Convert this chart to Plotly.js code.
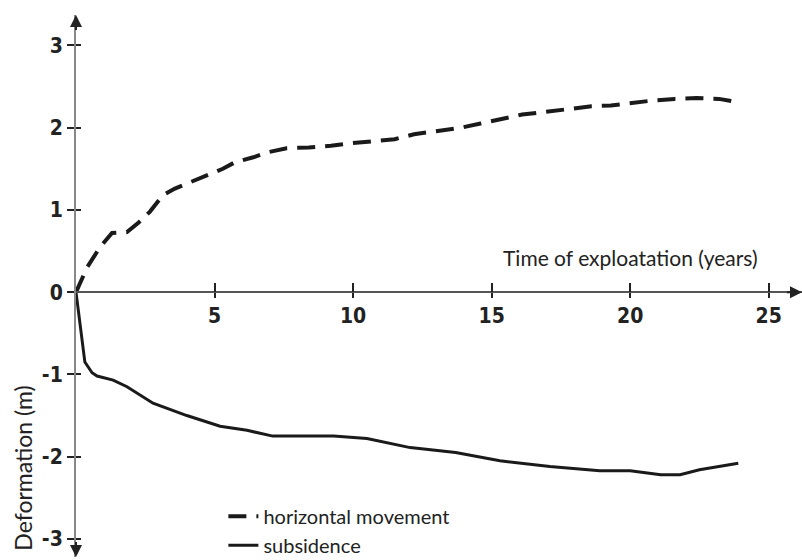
<!DOCTYPE html>
<html><head><meta charset="utf-8">
<script src="https://cdn.plot.ly/plotly-3.0.1.min.js"></script>
<style>html,body{margin:0;padding:0;background:#fff}#c{width:802px;height:560px}</style>
</head><body><div id="c"></div>
<script>
// Horizontal movement (dashed)
var hx = [0, 0.4, 0.87, 1.3, 1.84, 2.24, 2.67, 3.14, 3.57, 4.0, 4.58, 5.3, 5.74, 6.4, 6.9, 7.6, 8.4, 9.2, 9.9, 10.7, 11.5, 12.2, 13.0, 13.9, 14.6, 15.3, 16.1, 16.9, 17.7, 18.6, 19.3, 20.0, 20.8, 21.6, 22.4, 23.2, 23.9];
var hy = [0, 0.3, 0.55, 0.72, 0.73, 0.84, 0.98, 1.18, 1.26, 1.32, 1.41, 1.5, 1.58, 1.64, 1.70, 1.75, 1.76, 1.78, 1.81, 1.83, 1.86, 1.92, 1.96, 2.0, 2.05, 2.1, 2.16, 2.19, 2.22, 2.26, 2.27, 2.30, 2.33, 2.35, 2.36, 2.35, 2.31];
// Subsidence (solid)
var sx = [0, 0.15, 0.32, 0.58, 0.76, 1.34, 1.84, 2.78, 4.0, 5.2, 6.17, 7.1, 9.3, 10.5, 12.06, 13.7, 15.3, 17.1, 18.9, 20.0, 21.1, 21.8, 22.5, 23.9];
var sy = [0, -0.42, -0.85, -0.98, -1.02, -1.07, -1.15, -1.35, -1.5, -1.63, -1.68, -1.75, -1.75, -1.78, -1.89, -1.95, -2.05, -2.12, -2.17, -2.17, -2.22, -2.22, -2.16, -2.08];

var seriesNames = ['horizontal movement', 'subsidence'];
var xTickVals = [5, 10, 15, 20, 25];
var xTickText = ['5', '10', '15', '20', '25'];
var yTickVals = [-3, -2, -1, 0, 1, 2, 3];
var yTickText = ['-3', '-2', '-1', '0', '1', '2', '3'];
var xTitle = 'Time of exploatation (years)';
var yTitle = 'Deformation (m)';

var xr = [0, 26.2], yr = [-3.22, 3.37];
var zeroPos = (0 - yr[0]) / (yr[1] - yr[0]);
var tickFont = {family: 'Liberation Sans Narrow, DejaVu Sans Condensed, Arial Narrow, sans-serif', size: 21, color: '#222', weight: 'bold'};
var textFont = {family: 'Lato, Open Sans, sans-serif', size: 21, color: '#222'};
var legendFont = {family: 'Lato, Open Sans, sans-serif', size: 20, color: '#222'};
var yTitleFont = {family: 'Lato, Open Sans, sans-serif', size: 23, color: '#222'};

var traces = [
  {x: hx, y: hy, name: seriesNames[0], mode: 'lines', line: {color: '#1a1a1a', width: 4, dash: '18px,10px'}},
  {x: sx, y: sy, name: seriesNames[1], mode: 'lines', line: {color: '#1a1a1a', width: 3}},
  {x: [], y: [], xaxis: 'x2', yaxis: 'y2', showlegend: false, hoverinfo: 'skip'}
];

var layout = {
  width: 802, height: 560,
  margin: {l: 76, r: 0, t: 15, b: 3, autoexpand: false},
  paper_bgcolor: '#fff', plot_bgcolor: '#fff',
  showlegend: true,
  legend: {x: 0.203, y: 0.111, xanchor: 'left', yanchor: 'top', font: legendFont, itemwidth: 30, bgcolor: 'rgba(0,0,0,0)', tracegroupgap: 0},
  xaxis: {range: xr, anchor: 'free', position: zeroPos, showgrid: false, zeroline: false,
    showline: true, linecolor: '#555', linewidth: 2,
    tickmode: 'array', tickvals: xTickVals, ticktext: xTickText, ticks: 'outside', ticklen: 5, tickwidth: 2, tickcolor: '#222',
    tickfont: tickFont},
  yaxis: {range: yr, showgrid: false, zeroline: false, showline: true, linecolor: '#888', linewidth: 2,
    tickmode: 'array', tickvals: yTickVals, ticktext: yTickText, ticks: 'outside', ticklen: 7, tickwidth: 2, tickcolor: '#222',
    tickfont: tickFont},
  xaxis2: {range: xr, overlaying: 'x', anchor: 'free', position: zeroPos, showgrid: false, zeroline: false, showline: false,
    tickmode: 'array', tickvals: xTickVals, ticks: 'inside', ticklen: 9, tickwidth: 2, tickcolor: '#222', showticklabels: false},
  yaxis2: {range: yr, overlaying: 'y', anchor: 'x2', side: 'left', showgrid: false, zeroline: false, showline: false,
    tickmode: 'array', tickvals: [-3, -2, -1, 1, 2, 3], ticks: 'inside', ticklen: 5, tickwidth: 2, tickcolor: '#222', showticklabels: false},
  annotations: [
    {xref: 'x', yref: 'y', x: 24.7, y: 0.42, xanchor: 'right', yanchor: 'middle', text: xTitle, showarrow: false, font: textFont},
    {xref: 'paper', yref: 'paper', x: -0.073, y: 0.163, xanchor: 'center', yanchor: 'middle', text: yTitle, textangle: -90, showarrow: false, font: yTitleFont},
    {xref: 'x', yref: 'y', axref: 'x', ayref: 'y', x: xr[1], y: 0, ax: xr[1] - 0.6, ay: 0, text: '', showarrow: true, arrowhead: 2, arrowsize: 1.2, arrowwidth: 2, arrowcolor: '#222'},
    {xref: 'x', yref: 'y', axref: 'x', ayref: 'y', x: 0, y: yr[1], ax: 0, ay: yr[1] - 0.2, text: '', showarrow: true, arrowhead: 2, arrowsize: 1.2, arrowwidth: 2, arrowcolor: '#222'},
    {xref: 'x', yref: 'y', axref: 'x', ayref: 'y', x: 0, y: yr[0], ax: 0, ay: yr[0] + 0.2, text: '', showarrow: true, arrowhead: 2, arrowsize: 1.2, arrowwidth: 2, arrowcolor: '#222'}
  ]
};

Plotly.newPlot('c', traces, layout, {staticPlot: true, displayModeBar: false});
</script></body></html>
